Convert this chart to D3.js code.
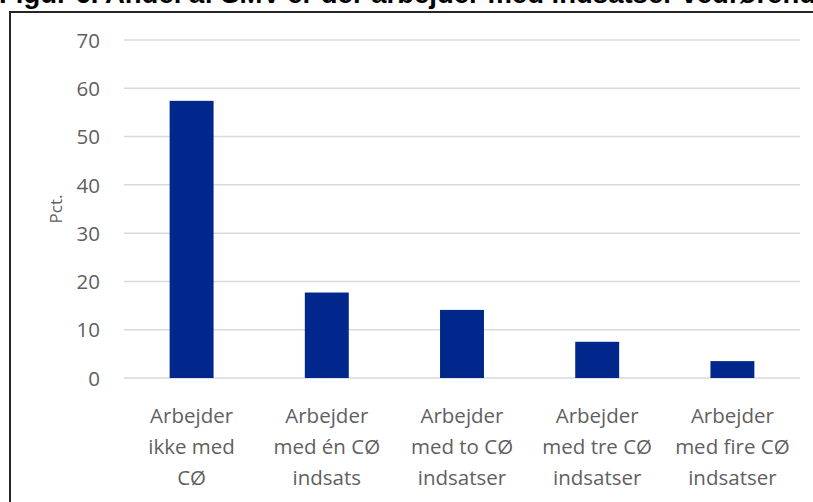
<!DOCTYPE html>
<html><head><meta charset="utf-8">
<script src="https://cdn.jsdelivr.net/npm/d3@7"></script>
<style>html,body{margin:0;padding:0;background:#fff;overflow:hidden}</style>
</head><body>
<svg id="c" width="813" height="502"></svg>
<script>
const titleText = "Figur 6. Andel af SMV'er der arbejder med indsatser vedrørende cirkulær økonomi";
const categories = [
  ["Arbejder", "ikke med", "CØ"],
  ["Arbejder", "med én CØ", "indsats"],
  ["Arbejder", "med to CØ", "indsatser"],
  ["Arbejder", "med tre CØ", "indsatser"],
  ["Arbejder", "med fire CØ", "indsatser"]
];
const values = [57.4, 17.7, 14.1, 7.5, 3.5];
const yTicks = [0, 10, 20, 30, 40, 50, 60, 70];
const yTitle = "Pct.";

(function () {
const svg = d3.select("#c");
const font = "'Open Sans', 'Noto Sans', sans-serif";
const grey = "#5f5f5f";

// title (clipped at top, as in the reference)
svg.append("text").attr("x", -1).attr("y", 3)
  .attr("font-family", "'Liberation Sans', Arial, sans-serif")
  .attr("font-weight", "bold").attr("font-size", 27.5).attr("fill", "#000")
  .text(titleText);

// frame
svg.append("rect").attr("x", 10).attr("y", 12).attr("width", 900).attr("height", 600)
  .attr("fill", "#fff").attr("stroke", "#262626").attr("stroke-width", 2);

const pl = 124, pr = 800, pt = 40, pb = 378;
const x = d3.scaleBand().domain(d3.range(categories.length)).range([pl, pr])
  .paddingInner(0.675).paddingOuter(0.3375);
const y = d3.scaleLinear().domain([0, 70]).range([pb, pt]);

// gridlines
svg.append("g").selectAll("line").data(yTicks).join("line")
  .attr("x1", pl).attr("x2", pr)
  .attr("y1", d => y(d)).attr("y2", d => y(d))
  .attr("stroke", "#d9d9d9").attr("stroke-width", 1.5);

// y axis labels
const yAxis = d3.axisLeft(y).tickValues(yTicks).tickSize(0).tickPadding(0);
const ga = svg.append("g").attr("transform", `translate(100,0)`).call(yAxis);
ga.select(".domain").remove();
ga.selectAll("text").attr("font-family", font).attr("font-size", 20.5).attr("fill", grey)
  .attr("dy", "0.35em");

// y title
svg.append("text").attr("transform", "translate(62,209) rotate(-90)")
  .attr("text-anchor", "middle").attr("font-family", font).attr("font-size", 17)
  .attr("fill", grey).text(yTitle);

// bars
svg.append("g").selectAll("rect").data(values).join("rect")
  .attr("x", (d, i) => x(i)).attr("width", x.bandwidth())
  .attr("y", d => y(d)).attr("height", d => y(0) - y(d))
  .attr("fill", "#00288c");

// category labels
const lab = svg.append("g").selectAll("text").data(categories).join("text")
  .attr("text-anchor", "middle").attr("font-family", font).attr("font-size", 20.5)
  .attr("fill", grey);
lab.each(function(lines, i) {
  const t = d3.select(this);
  lines.forEach((l, k) => {
    t.append("tspan").attr("x", x(i) + x.bandwidth() / 2).attr("y", 423 + k * 31).text(l);
  });
});
})();
</script>
</body></html>
